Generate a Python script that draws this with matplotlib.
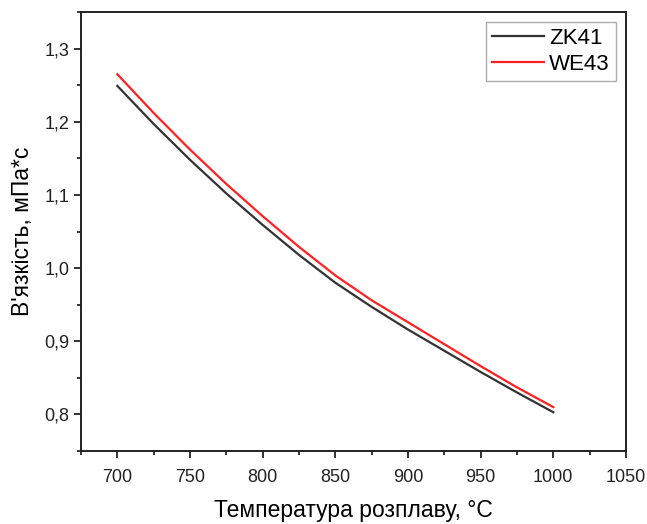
import matplotlib.pyplot as plt
from matplotlib.ticker import MultipleLocator, FuncFormatter

plt.rcParams['font.family'] = ['Liberation Sans', 'DejaVu Sans']

temp = [700, 725, 750, 775, 800, 825, 850, 875, 900, 925, 950, 975, 1000]
zk41 = [1.249, 1.197, 1.148, 1.102, 1.059, 1.018, 0.980, 0.947, 0.916, 0.887, 0.858, 0.830, 0.803]
we43 = [1.265, 1.212, 1.162, 1.115, 1.071, 1.029, 0.990, 0.956, 0.926, 0.896, 0.866, 0.837, 0.810]

fig = plt.figure(figsize=(6.47, 5.24), dpi=100)
ax = fig.add_axes([0.1252, 0.1393, 0.8423, 0.8378])

ax.plot(temp, zk41, color='#333333', lw=1.6, label='ZK41')
ax.plot(temp, we43, color='#ff2020', lw=1.6, label='WE43')

ax.set_xlim(675, 1050)
ax.set_ylim(0.75, 1.35)
ax.xaxis.set_major_locator(MultipleLocator(50))
ax.xaxis.set_minor_locator(MultipleLocator(25))
ax.yaxis.set_major_locator(MultipleLocator(0.1))
ax.yaxis.set_minor_locator(MultipleLocator(0.05))
ax.yaxis.set_major_formatter(FuncFormatter(lambda v, p: f'{v:.1f}'.replace('.', ',')))

ax.tick_params(which='major', direction='out', length=5, width=1.3, labelsize=13, colors='#222222')
ax.tick_params(axis='x', which='major', pad=8)
ax.tick_params(which='minor', direction='out', length=3, width=1.1)
for s in ax.spines.values():
    s.set_linewidth(1.4)
    s.set_color('#222222')

ax.set_xlabel('Температура розплаву, °C', fontsize=16.5, labelpad=9)
ax.set_ylabel("В'язкість, мПа*с", fontsize=16.5, labelpad=7)

leg = ax.legend(loc='upper right', fontsize=16, handlelength=2.3, fancybox=False,
                edgecolor='#999999', borderaxespad=0.45, handletextpad=0.25,
                labelspacing=0.2, borderpad=0.28)
leg.get_frame().set_linewidth(1.0)

fig.savefig('out.png', dpi=100)
